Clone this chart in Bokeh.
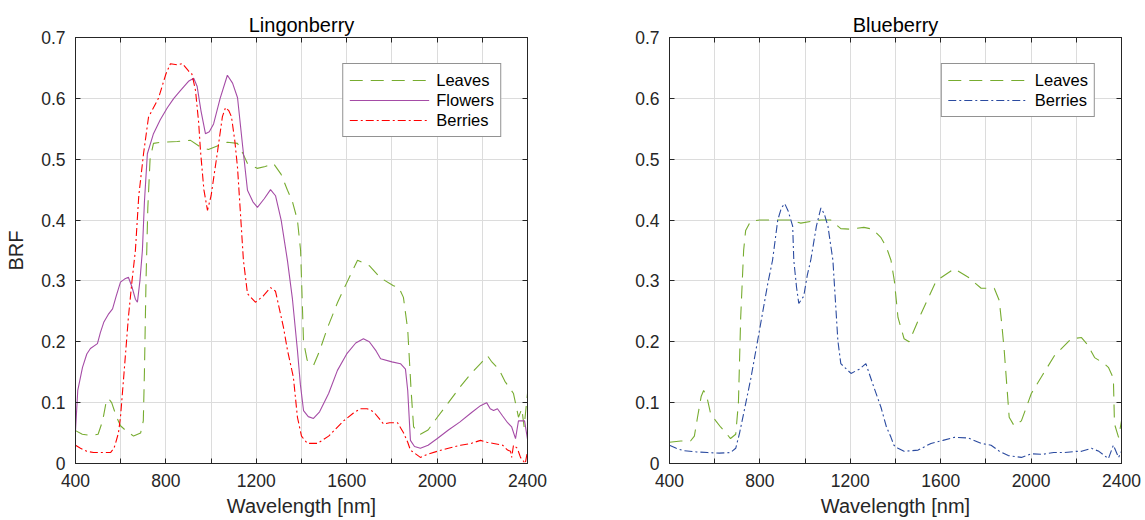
from bokeh.plotting import figure
from bokeh.models import (Range1d, FixedTicker, CustomJSTickFormatter, LinearAxis, Legend, LegendItem)
from bokeh.layouts import row
from bokeh.embed import file_html
from bokeh.resources import INLINE

# ---------------- data ----------------
ling_leaves_wl = [400,430,470,500,520,535,546,560,580,599,620,657,688,700,705,712,720,730,745,780,850,909,953,988,1030,1072,1117,1140,1161,1204,1240,1276,1310,1338,1360,1382,1396,1409,1425,1453,1480,1515,1560,1599,1648,1700,1750,1807,1830,1851,1870,1885,1896,1926,1960,2001,2050,2100,2150,2192,2223,2240,2260,2280,2300,2338,2360,2375,2385,2400]
ling_leaves_brf = [0.054,0.048,0.046,0.048,0.07,0.1,0.107,0.1,0.078,0.062,0.055,0.045,0.05,0.07,0.15,0.3,0.42,0.5,0.526,0.528,0.529,0.531,0.52,0.516,0.522,0.528,0.526,0.51,0.493,0.485,0.488,0.493,0.475,0.449,0.43,0.4,0.35,0.2,0.17,0.161,0.185,0.223,0.265,0.296,0.334,0.325,0.305,0.292,0.29,0.273,0.22,0.12,0.06,0.048,0.055,0.076,0.1,0.125,0.148,0.164,0.177,0.168,0.16,0.15,0.135,0.115,0.076,0.09,0.06,0.115]

ling_flowers_wl = [400,410,431,450,466,497,510,525,545,564,580,599,617,634,650,665,674,685,696,705,718,745,775,807,835,865,900,923,938,955,975,992,1011,1040,1072,1095,1117,1140,1161,1185,1205,1235,1263,1285,1310,1338,1360,1382,1395,1409,1430,1453,1480,1520,1559,1600,1640,1674,1700,1730,1750,1800,1838,1860,1870,1882,1900,1926,1960,2001,2050,2100,2150,2192,2219,2235,2250,2267,2290,2312,2330,2347,2360,2369,2387,2400]
ling_flowers_brf = [0.054,0.12,0.158,0.18,0.189,0.197,0.215,0.232,0.245,0.254,0.275,0.298,0.303,0.306,0.29,0.27,0.265,0.3,0.35,0.43,0.509,0.542,0.565,0.585,0.6,0.613,0.628,0.633,0.62,0.58,0.542,0.545,0.558,0.6,0.638,0.625,0.601,0.52,0.449,0.43,0.421,0.435,0.45,0.44,0.4,0.333,0.27,0.186,0.13,0.087,0.077,0.074,0.085,0.115,0.153,0.18,0.198,0.205,0.2,0.185,0.172,0.167,0.164,0.155,0.12,0.038,0.028,0.025,0.03,0.041,0.055,0.068,0.083,0.095,0.1,0.09,0.087,0.09,0.078,0.067,0.06,0.041,0.07,0.07,0.07,0.04]

ling_berries_wl = [400,422,450,480,520,555,570,577,590,599,615,634,650,665,680,701,723,767,800,820,850,873,900,915,931,945,953,968,984,1000,1029,1050,1064,1078,1090,1105,1117,1130,1143,1161,1196,1230,1263,1285,1320,1338,1364,1382,1400,1426,1471,1520,1586,1630,1661,1690,1719,1763,1790,1825,1852,1870,1882,1926,1957,2000,2050,2104,2150,2192,2220,2250,2290,2312,2325,2330,2338,2355,2369,2390,2400]
ling_berries_brf = [0.03,0.025,0.02,0.018,0.018,0.018,0.025,0.033,0.05,0.076,0.15,0.24,0.3,0.35,0.44,0.509,0.569,0.6,0.64,0.657,0.655,0.657,0.645,0.64,0.613,0.56,0.514,0.45,0.416,0.44,0.514,0.57,0.585,0.58,0.57,0.53,0.486,0.41,0.334,0.279,0.265,0.275,0.289,0.283,0.224,0.186,0.142,0.076,0.045,0.033,0.033,0.045,0.07,0.083,0.09,0.09,0.085,0.065,0.067,0.067,0.05,0.035,0.022,0.01,0.015,0.02,0.025,0.03,0.033,0.038,0.035,0.033,0.03,0.022,0.02,0.01,0.03,0.025,0.01,0.0,0.02]

blue_leaves_wl = [400,450,493,510,524,540,551,565,582,605,626,650,670,693,705,715,728,737,759,800,850,937,981,1030,1070,1114,1158,1200,1260,1300,1336,1360,1380,1395,1411,1438,1460,1513,1580,1660,1722,1779,1837,1859,1870,1881,1903,1925,1957,2001,2050,2103,2178,2223,2250,2281,2320,2342,2364,2369,2387,2400]
blue_leaves_brf = [0.035,0.037,0.037,0.045,0.076,0.11,0.12,0.11,0.082,0.07,0.06,0.05,0.041,0.048,0.1,0.24,0.35,0.383,0.398,0.4,0.4,0.4,0.395,0.398,0.4,0.4,0.386,0.385,0.388,0.385,0.371,0.355,0.334,0.3,0.24,0.205,0.2,0.246,0.3,0.32,0.306,0.288,0.288,0.268,0.23,0.186,0.076,0.062,0.07,0.115,0.145,0.177,0.205,0.207,0.195,0.174,0.165,0.158,0.14,0.065,0.043,0.07]

blue_berries_wl = [400,430,462,520,568,620,670,693,710,728,760,790,835,856,879,895,910,925,945,950,962,972,994,1010,1025,1050,1070,1085,1101,1123,1145,1158,1203,1240,1269,1300,1336,1360,1380,1393,1411,1438,1500,1557,1610,1660,1722,1779,1823,1860,1899,1957,2001,2050,2100,2147,2200,2223,2267,2300,2342,2364,2387,2400]
blue_berries_brf = [0.03,0.025,0.021,0.019,0.018,0.017,0.018,0.025,0.05,0.082,0.14,0.202,0.296,0.334,0.4,0.42,0.427,0.415,0.39,0.334,0.29,0.263,0.275,0.31,0.334,0.39,0.42,0.41,0.39,0.334,0.202,0.164,0.148,0.155,0.164,0.13,0.092,0.06,0.043,0.03,0.025,0.02,0.022,0.033,0.038,0.043,0.042,0.033,0.03,0.02,0.013,0.01,0.016,0.015,0.018,0.018,0.02,0.02,0.025,0.02,0.008,0.03,0.01,0.02]

x_ticks = [400, 600, 800, 1000, 1200, 1400, 1600, 1800, 2000, 2200, 2400]
y_ticks = [0, 0.1, 0.2, 0.3, 0.4, 0.5, 0.6, 0.7]

GREEN = "#77AC30"
PURPLE = "#A54CA6"
RED = "#FF0000"
BLUE = "#2B4BA0"
DARK = "#262626"
FONT = "Liberation Sans"

xfmt = CustomJSTickFormatter(code="return (Math.round(tick) % 400 == 0) ? tick.toFixed(0) : '';")
yfmt = CustomJSTickFormatter(code="return Math.abs(tick) < 1e-9 ? '0' : tick.toFixed(1);")
blank = CustomJSTickFormatter(code="return '';")


def make_fig(title, border_left, border_right, ylabel):
    p = figure(frame_width=452, frame_height=426, output_backend="svg", toolbar_location=None,
               x_range=Range1d(400, 2400), y_range=Range1d(0, 0.7),
               min_border_left=border_left, min_border_right=border_right,
               min_border_top=37, min_border_bottom=57, title=title)
    p.title.text_font = FONT
    p.title.text_font_size = "20px"
    p.title.text_font_style = "normal"
    p.title.align = "center"
    p.title.text_color = "black"
    p.title.standoff = 4
    p.outline_line_color = DARK
    p.outline_line_width = 1
    for ax in (p.xaxis[0], p.yaxis[0]):
        ax.major_tick_in = 5
        ax.major_tick_out = 0
        ax.minor_tick_line_color = None
        ax.axis_line_color = DARK
        ax.major_tick_line_color = DARK
        ax.major_label_text_font = FONT
        ax.major_label_text_font_size = "17.5px"
        ax.major_label_text_color = DARK
        ax.axis_label_text_font = FONT
        ax.axis_label_text_font_size = "20px"
        ax.axis_label_text_font_style = "normal"
        ax.axis_label_text_color = DARK
    p.xaxis[0].ticker = FixedTicker(ticks=x_ticks)
    p.xaxis[0].formatter = xfmt
    p.xaxis[0].axis_label = "Wavelength [nm]"
    p.xaxis[0].axis_label_standoff = 5
    p.xaxis[0].major_label_standoff = 10
    p.yaxis[0].ticker = FixedTicker(ticks=y_ticks)
    p.yaxis[0].formatter = yfmt
    p.yaxis[0].major_label_standoff = 10
    if ylabel:
        p.yaxis[0].axis_label = ylabel
        p.yaxis[0].axis_label_standoff = 11
    # top and right axes: ticks only
    top = LinearAxis(ticker=FixedTicker(ticks=x_ticks), formatter=blank, major_tick_in=5,
                     major_tick_out=0, minor_tick_line_color=None, axis_line_color=DARK,
                     major_tick_line_color=DARK, major_label_text_font_size="1px")
    right = LinearAxis(ticker=FixedTicker(ticks=y_ticks), formatter=blank, major_tick_in=5,
                       major_tick_out=0, minor_tick_line_color=None, axis_line_color=DARK,
                       major_tick_line_color=DARK, major_label_text_font_size="1px")
    p.add_layout(top, "above")
    p.add_layout(right, "right")
    p.xgrid.ticker = FixedTicker(ticks=x_ticks)
    p.ygrid.ticker = FixedTicker(ticks=y_ticks)
    p.xgrid.grid_line_color = "#dcdcdc"
    p.ygrid.grid_line_color = "#dcdcdc"
    p.xgrid.grid_line_width = 1
    p.ygrid.grid_line_width = 1
    return p


def style_legend(p, items):
    leg = Legend(items=items, location="top_right", margin=26)
    leg.label_text_font = FONT
    leg.label_text_font_size = "16.5px"
    leg.label_text_color = "black"
    leg.glyph_width = 80
    leg.glyph_height = 20
    leg.label_height = 20
    leg.spacing = 0
    leg.padding = 6
    leg.label_standoff = 7
    leg.border_line_color = DARK
    leg.border_line_width = 1
    leg.background_fill_alpha = 1
    p.add_layout(leg)


p1 = make_fig("Lingonberry", 75, 60, "BRF")
r1 = p1.line(ling_leaves_wl, ling_leaves_brf, line_color=GREEN, line_width=1.1, line_dash="13 8")
r2 = p1.line(ling_flowers_wl, ling_flowers_brf, line_color=PURPLE, line_width=1.1)
r3 = p1.line(ling_berries_wl, ling_berries_brf, line_color=RED, line_width=1.1, line_dash="8 3 2 3")
style_legend(p1, [LegendItem(label="Leaves", renderers=[r1]),
                  LegendItem(label="Flowers", renderers=[r2]),
                  LegendItem(label="Berries", renderers=[r3])])

p2 = make_fig("Blueberry", 82, 25, None)
b1 = p2.line(blue_leaves_wl, blue_leaves_brf, line_color=GREEN, line_width=1.1, line_dash="13 8")
b2 = p2.line(blue_berries_wl, blue_berries_brf, line_color=BLUE, line_width=1.1, line_dash="8 3 2 3")
style_legend(p2, [LegendItem(label="Leaves", renderers=[b1]),
                  LegendItem(label="Berries", renderers=[b2])])

layout = row(p1, p2)
open("out.html", "w").write(file_html(layout, INLINE))
